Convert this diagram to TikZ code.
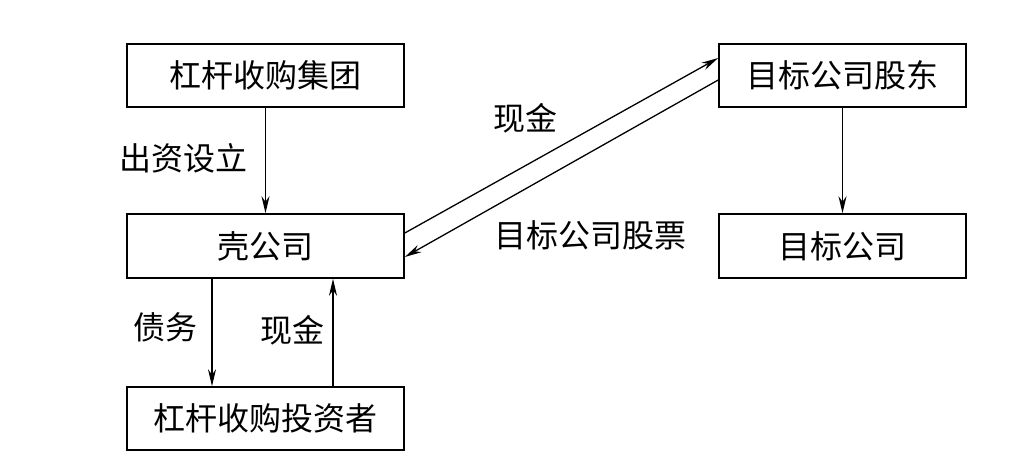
\documentclass[tikz,border=0pt]{standalone}
\usepackage{fontspec}
\setmainfont{Noto Sans CJK SC}
\usetikzlibrary{arrows.meta,calc}
\begin{document}
\begin{tikzpicture}[x=1pt,y=-1pt,
  box/.style={draw,line width=1.6pt,rectangle,inner sep=0pt,font=\fontsize{32}{36}\selectfont},
  lab/.style={inner sep=0pt,font=\fontsize{32}{36}\selectfont},
  arr/.style={line width=1.3pt,-{Stealth[length=17pt,width=8pt]}}]
\useasboundingbox (0,0) rectangle (1015,467);
\node[box,minimum width=277pt,minimum height=63pt] (grp) at (265.5,75.5) {杠杆收购集团};
\node[box,minimum width=277pt,minimum height=64pt] (ke) at (265.5,246) {壳公司};
\node[box,minimum width=277pt,minimum height=63pt] (inv) at (265.5,418.5) {杠杆收购投资者};
\node[box,minimum width=247pt,minimum height=63pt] (sh) at (842.5,75.5) {目标公司股东};
\node[box,minimum width=247pt,minimum height=64pt] (tg) at (842.5,246) {目标公司};
\draw[arr] (grp.south) -- (ke.north);
\draw[arr] ([xshift=-53.5pt]ke.south) -- ([xshift=-53.5pt]inv.north);
\draw[arr] ([xshift=67.5pt]inv.north) -- ([xshift=67.5pt]ke.south);
\draw[arr] (sh.south) -- (tg.north);
\draw[arr] ([yshift=13pt]ke.east) -- ([yshift=17.5pt]sh.west);
\draw[arr] ([yshift=-4.5pt]sh.west) -- ([yshift=-11pt]ke.east);
\node[lab] (l1) at (183,158) {出资设立};
\node[lab] (l2) at (165,327) {债务};
\node[lab] (l3) at (292,330) {现金};
\node[lab] (l4) at (525,118) {现金};
\node[lab] (l5) at (590,235) {目标公司股票};
\end{tikzpicture}
\end{document}
